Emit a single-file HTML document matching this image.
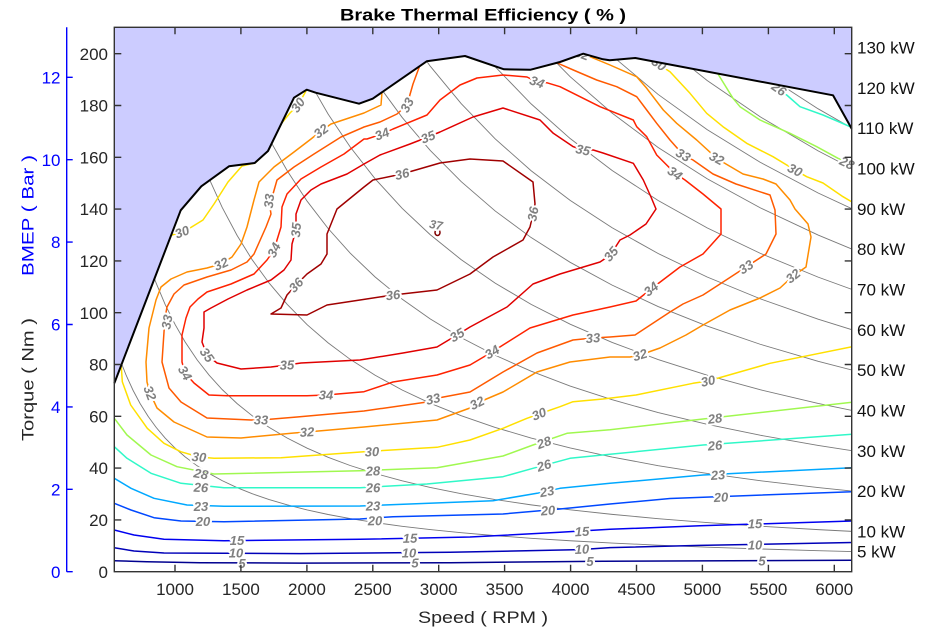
<!DOCTYPE html>
<html><head><meta charset="utf-8"><style>body{margin:0;background:#fff}svg{display:block}</style></head>
<body>
<svg width="925" height="634" viewBox="0 0 925 634" xmlns="http://www.w3.org/2000/svg" font-family="'Liberation Sans', Arial, sans-serif">
<defs>
<clipPath id="cb" clipPathUnits="userSpaceOnUse">
<polygon points="114.3,383.3 180.7,210.3 201.3,186.3 229,166.3 254.7,163 268,151 294,97.7 306.7,89.7 315.7,92.7 359,103.7 372.7,98.7 426.7,61.3 465,56 504,69.3 530.7,69.7 560,62 583.3,53.7 603,59.3 609.7,60.3 635.3,58 833,95.3 851.7,128.7 851.7,571.7 114.3,571.7"/>
</clipPath>
<clipPath id="pa" clipPathUnits="userSpaceOnUse"><rect x="114.3" y="27.3" width="737.4" height="544.4"/></clipPath>
</defs>
<rect width="925" height="634" fill="#fff"/>

<!-- power iso-lines -->
<g clip-path="url(#cb)" fill="none" stroke="#7a7a7a" stroke-width="0.9">
<path vector-effect="non-scaling-stroke" transform="translate(43.14,571.7) scale(1,-5)" d="M71,45.93 L77,42.35 L83,39.29 L90,36.24 L97,33.62 L105,31.06 L113,28.86 L122,26.73 L132,24.71 L142,22.97 L154,21.18 L166,19.65 L179,18.22 L194,16.81 L209,15.60 L226,14.43 L244,13.37 L264,12.35 L285,11.44 L307,10.62 L332,9.823 L359,9.085 L387,8.427 L418,7.802 L452,7.215 L488,6.683 L527,6.188 L569,5.732 L615,5.303 L664,4.912 L717,4.549 L775,4.208 L812,4.016"/>
<path vector-effect="non-scaling-stroke" transform="translate(43.14,571.7) scale(1,-10)" d="M71,45.93 L77,42.35 L83,39.29 L90,36.24 L97,33.62 L105,31.06 L113,28.86 L122,26.73 L132,24.71 L142,22.97 L154,21.18 L166,19.65 L179,18.22 L194,16.81 L209,15.60 L226,14.43 L244,13.37 L264,12.35 L285,11.44 L307,10.62 L332,9.823 L359,9.085 L387,8.427 L418,7.802 L452,7.215 L488,6.683 L527,6.188 L569,5.732 L615,5.303 L664,4.912 L717,4.549 L775,4.208 L812,4.016"/>
<path vector-effect="non-scaling-stroke" transform="translate(43.14,571.7) scale(1,-20)" d="M71,45.93 L77,42.35 L83,39.29 L90,36.24 L97,33.62 L105,31.06 L113,28.86 L122,26.73 L132,24.71 L142,22.97 L154,21.18 L166,19.65 L179,18.22 L194,16.81 L209,15.60 L226,14.43 L244,13.37 L264,12.35 L285,11.44 L307,10.62 L332,9.823 L359,9.085 L387,8.427 L418,7.802 L452,7.215 L488,6.683 L527,6.188 L569,5.732 L615,5.303 L664,4.912 L717,4.549 L775,4.208 L812,4.016"/>
<path vector-effect="non-scaling-stroke" transform="translate(43.14,571.7) scale(1,-30)" d="M71,45.93 L77,42.35 L83,39.29 L90,36.24 L97,33.62 L105,31.06 L113,28.86 L122,26.73 L132,24.71 L142,22.97 L154,21.18 L166,19.65 L179,18.22 L194,16.81 L209,15.60 L226,14.43 L244,13.37 L264,12.35 L285,11.44 L307,10.62 L332,9.823 L359,9.085 L387,8.427 L418,7.802 L452,7.215 L488,6.683 L527,6.188 L569,5.732 L615,5.303 L664,4.912 L717,4.549 L775,4.208 L812,4.016"/>
<path vector-effect="non-scaling-stroke" transform="translate(43.14,571.7) scale(1,-40)" d="M71,45.93 L77,42.35 L83,39.29 L90,36.24 L97,33.62 L105,31.06 L113,28.86 L122,26.73 L132,24.71 L142,22.97 L154,21.18 L166,19.65 L179,18.22 L194,16.81 L209,15.60 L226,14.43 L244,13.37 L264,12.35 L285,11.44 L307,10.62 L332,9.823 L359,9.085 L387,8.427 L418,7.802 L452,7.215 L488,6.683 L527,6.188 L569,5.732 L615,5.303 L664,4.912 L717,4.549 L775,4.208 L812,4.016"/>
<path vector-effect="non-scaling-stroke" transform="translate(43.14,571.7) scale(1,-50)" d="M71,45.93 L77,42.35 L83,39.29 L90,36.24 L97,33.62 L105,31.06 L113,28.86 L122,26.73 L132,24.71 L142,22.97 L154,21.18 L166,19.65 L179,18.22 L194,16.81 L209,15.60 L226,14.43 L244,13.37 L264,12.35 L285,11.44 L307,10.62 L332,9.823 L359,9.085 L387,8.427 L418,7.802 L452,7.215 L488,6.683 L527,6.188 L569,5.732 L615,5.303 L664,4.912 L717,4.549 L775,4.208 L812,4.016"/>
<path vector-effect="non-scaling-stroke" transform="translate(43.14,571.7) scale(1,-60)" d="M71,45.93 L77,42.35 L83,39.29 L90,36.24 L97,33.62 L105,31.06 L113,28.86 L122,26.73 L132,24.71 L142,22.97 L154,21.18 L166,19.65 L179,18.22 L194,16.81 L209,15.60 L226,14.43 L244,13.37 L264,12.35 L285,11.44 L307,10.62 L332,9.823 L359,9.085 L387,8.427 L418,7.802 L452,7.215 L488,6.683 L527,6.188 L569,5.732 L615,5.303 L664,4.912 L717,4.549 L775,4.208 L812,4.016"/>
<path vector-effect="non-scaling-stroke" transform="translate(43.14,571.7) scale(1,-70)" d="M71,45.93 L77,42.35 L83,39.29 L90,36.24 L97,33.62 L105,31.06 L113,28.86 L122,26.73 L132,24.71 L142,22.97 L154,21.18 L166,19.65 L179,18.22 L194,16.81 L209,15.60 L226,14.43 L244,13.37 L264,12.35 L285,11.44 L307,10.62 L332,9.823 L359,9.085 L387,8.427 L418,7.802 L452,7.215 L488,6.683 L527,6.188 L569,5.732 L615,5.303 L664,4.912 L717,4.549 L775,4.208 L812,4.016"/>
<path vector-effect="non-scaling-stroke" transform="translate(43.14,571.7) scale(1,-80)" d="M71,45.93 L77,42.35 L83,39.29 L90,36.24 L97,33.62 L105,31.06 L113,28.86 L122,26.73 L132,24.71 L142,22.97 L154,21.18 L166,19.65 L179,18.22 L194,16.81 L209,15.60 L226,14.43 L244,13.37 L264,12.35 L285,11.44 L307,10.62 L332,9.823 L359,9.085 L387,8.427 L418,7.802 L452,7.215 L488,6.683 L527,6.188 L569,5.732 L615,5.303 L664,4.912 L717,4.549 L775,4.208 L812,4.016"/>
<path vector-effect="non-scaling-stroke" transform="translate(43.14,571.7) scale(1,-90)" d="M71,45.93 L77,42.35 L83,39.29 L90,36.24 L97,33.62 L105,31.06 L113,28.86 L122,26.73 L132,24.71 L142,22.97 L154,21.18 L166,19.65 L179,18.22 L194,16.81 L209,15.60 L226,14.43 L244,13.37 L264,12.35 L285,11.44 L307,10.62 L332,9.823 L359,9.085 L387,8.427 L418,7.802 L452,7.215 L488,6.683 L527,6.188 L569,5.732 L615,5.303 L664,4.912 L717,4.549 L775,4.208 L812,4.016"/>
<path vector-effect="non-scaling-stroke" transform="translate(43.14,571.7) scale(1,-100)" d="M71,45.93 L77,42.35 L83,39.29 L90,36.24 L97,33.62 L105,31.06 L113,28.86 L122,26.73 L132,24.71 L142,22.97 L154,21.18 L166,19.65 L179,18.22 L194,16.81 L209,15.60 L226,14.43 L244,13.37 L264,12.35 L285,11.44 L307,10.62 L332,9.823 L359,9.085 L387,8.427 L418,7.802 L452,7.215 L488,6.683 L527,6.188 L569,5.732 L615,5.303 L664,4.912 L717,4.549 L775,4.208 L812,4.016"/>
<path vector-effect="non-scaling-stroke" transform="translate(43.14,571.7) scale(1,-110)" d="M71,45.93 L77,42.35 L83,39.29 L90,36.24 L97,33.62 L105,31.06 L113,28.86 L122,26.73 L132,24.71 L142,22.97 L154,21.18 L166,19.65 L179,18.22 L194,16.81 L209,15.60 L226,14.43 L244,13.37 L264,12.35 L285,11.44 L307,10.62 L332,9.823 L359,9.085 L387,8.427 L418,7.802 L452,7.215 L488,6.683 L527,6.188 L569,5.732 L615,5.303 L664,4.912 L717,4.549 L775,4.208 L812,4.016"/>
<path vector-effect="non-scaling-stroke" transform="translate(43.14,571.7) scale(1,-120)" d="M71,45.93 L77,42.35 L83,39.29 L90,36.24 L97,33.62 L105,31.06 L113,28.86 L122,26.73 L132,24.71 L142,22.97 L154,21.18 L166,19.65 L179,18.22 L194,16.81 L209,15.60 L226,14.43 L244,13.37 L264,12.35 L285,11.44 L307,10.62 L332,9.823 L359,9.085 L387,8.427 L418,7.802 L452,7.215 L488,6.683 L527,6.188 L569,5.732 L615,5.303 L664,4.912 L717,4.549 L775,4.208 L812,4.016"/>
<path vector-effect="non-scaling-stroke" transform="translate(43.14,571.7) scale(1,-130)" d="M71,45.93 L77,42.35 L83,39.29 L90,36.24 L97,33.62 L105,31.06 L113,28.86 L122,26.73 L132,24.71 L142,22.97 L154,21.18 L166,19.65 L179,18.22 L194,16.81 L209,15.60 L226,14.43 L244,13.37 L264,12.35 L285,11.44 L307,10.62 L332,9.823 L359,9.085 L387,8.427 L418,7.802 L452,7.215 L488,6.683 L527,6.188 L569,5.732 L615,5.303 L664,4.912 L717,4.549 L775,4.208 L812,4.016"/>
</g>

<!-- contours -->
<g clip-path="url(#pa)" fill="none" stroke-width="1.5" stroke-linejoin="round" stroke-linecap="round">
<polyline stroke="#00008f" points="114.3,560.7 147,561.8 200,562.7 300,563.1 450,562.7 603,561.2 852,560.3"/>
<polyline stroke="#0000b8" points="114.3,547.7 134,551 164,553 300,553.6 450,552.3 580,549.6 610,547.6 700,545.4 852,542.5"/>
<polyline stroke="#0000f0" points="114.3,530 134,535 164,539.3 224,540.7 360,539.3 470,537 560,532.3 610,529.3 700,525.8 852,521"/>
<polyline stroke="#0048ff" points="114.3,503.3 131,510 154,517.7 181,521 224,521.7 360,519 393,516.7 503,514 537,511 560,509 610,504 670,498.5 750,495.5 852,491.7"/>
<polyline stroke="#00a8ff" points="114.3,478.3 131,488.3 154,498.3 187,505 224,506.3 360,506 493,500.7 537,493.3 560,488.3 610,483.3 703,475 852,467.7"/>
<polyline stroke="#30f8c8" points="114.3,446.7 127,458.3 151,473.3 181,483.3 224,487.7 360,487.7 427,484 503,476.7 533,468.3 570,458.3 610,454.3 703,445 852,434.3"/>
<polyline stroke="#a0f850" points="114.3,418.3 127,435 151,455 177,466.7 214,474 360,470.7 437,467.7 503,456 533,445 567,433.3 610,429.7 703,419 852,402.3"/>
<polyline stroke="#ffe000" points="121.3,366.7 122.3,381.7 130.7,405 147.3,428.3 164,443.3 180.7,451.7 199,457 214,458.3 281,457.7 364,451.7 437,447.3 470,440 503,428.3 527,418.3 539,414 560,406.7 573,401.7 603,399 636,395 693,383.3 708,381 770,363.3 852,346.7"/>
<polyline stroke="#ffe000" points="172,235 182,232 190,228 203,220 214,204 228,182 242,166 255,163 268,151 281,124 290,113 298,105 306,91"/>
<polyline stroke="#ffe000" points="655,62 670,71.7 690,93.3 706.7,113.3 723,126.7 746.7,143.3 773,156.7 795,170 806.7,176.7 823,183 843,196.7 852,202"/>
<polyline stroke="#a0f850" points="718,74 733,98.3 740,106.7 760,120 790,133.3 816.7,146.7 838,158.3 852,164"/>
<polyline stroke="#30f8c8" points="781,92 786.7,95 800,106.7 823,115 852,127.5"/>
<polyline stroke="#ff8c00" points="382,92 381,105 364,113 331,124 321,131 311,139 294,152 274,167 259,182 254,200 247,227 241,244 232,257 221,264 207,268 187,272 171,279 161,287 156,300 149,328 146,362 147,382 150,393 157,408 174,422 207,437 241,438 294,433 307,432 364,427 437,420 470,408 477,403 503,392 537,372 570,362 610,357 630,357 640,355 660,348 686,335 703,325 730,310 760,298 780,288 793,276 806,267 811,237 808,224 795,209 790,200 776,184 763,179 743,174 726,164 716.7,158.3 696.7,140 676.7,123.3 663.3,110 646.7,88.3 636.7,76.7 610,65 590,56.7 585,55"/>
<polyline stroke="#ff5a00" points="420,65 413,84 407,105 397,114 380,122 364,127 341,137 314,154 294,167 277,180 273,194 269,201 271,214 266,227 254,254 247,262 231,270 207,277 184,285 174,294 167,307 165,318 164,332 162,362 169,388 181,402 207,418 251,420 261,420 297,417 364,411 427,402 433,399 470,392 503,372 537,353 573,340 593,338 610,337 635,335 670,312 683,304 703,295 720,284 746,267 766,254 776,234 775,210 770,195 736,184 713,174 693,160 683.3,155 670,140 656.7,123.3 646.7,110 636.7,96.7 616.7,86.7 596.7,80 573.3,70 555,62"/>
<polygon stroke="#ff2200" points="207,292 198,299 190,307 186,318 182,335 182,362 185,373 194,383 209,395 227,395.7 307,395.7 326,395 364,391.7 393,382 437,375 470,365 492,352 503,345 530,328 573,315 610,307 636,301 651,289 680,267 703,254 721,234 721,209 703,194 685,180 675,173.3 666.7,165 656.7,155 646.7,136.7 636.7,126.7 633.3,120 600,106.7 580,96.7 560,86.7 546.7,82.7 537,82 527,77 503,75 477,78 460,85 440,100 427,115 393,129 382,134 367,139 364,139 344,154 321,167 301,179 287,194 282,207 281,227 277,240 274,250 267,260 254,274 231,284"/>
<polygon stroke="#e00000" points="296,214 301,200 311,190 321,184 347,174 364,164 380,155 410,144 428,137 440,132 473,117 503,108 540,120 553.3,133.3 573.3,146.7 583,150 593.3,150 603,153 633.3,163.3 643.3,180 651,197 656,209 646,224 630,235 620,240 611,254 603,260 600,262 560,274 533,284 507,307 470,327 457,335 437,347 403,353 360,360 301,363 287,365 271,367 241,369 217,363 207,355 202,342 204,328 204,312 211,308 228,299 247,290 271,280 284,270 291,260 292,244 296,230"/>
<polygon stroke="#a00000" points="364,187 373,180 402,174 440,163 470,159 503,161 533,182 535,204 533,214 530,227 523,240 493,257 470,274 437,290 393,295 360,300 327,305 307,315 271,314 281,308 287,295 296,285 307,274 321,264 327,254 327,234 337,209"/>
<ellipse stroke="#800000" cx="437.5" cy="232.5" rx="2.5" ry="3"/>
</g>

<!-- contour labels -->
<g font-size="13" font-weight="bold" font-style="italic" fill="#808080" text-anchor="middle" stroke="#fff" stroke-width="4" stroke-linejoin="round" paint-order="stroke">
<text transform="translate(242,563.5)" dy="4.5">5</text>
<text transform="translate(415,563)" dy="4.5">5</text>
<text transform="translate(590,561.5)" dy="4.5">5</text>
<text transform="translate(762,560.8)" dy="4.5">5</text>
<text transform="translate(236,553)" dy="4.5">10</text>
<text transform="translate(409,553)" dy="4.5">10</text>
<text transform="translate(582,549.3) rotate(-2)" dy="4.5">10</text>
<text transform="translate(755,545) rotate(-1)" dy="4.5">10</text>
<text transform="translate(237,540.3)" dy="4.5">15</text>
<text transform="translate(410,538.3) rotate(-1)" dy="4.5">15</text>
<text transform="translate(582,531.5) rotate(-3)" dy="4.5">15</text>
<text transform="translate(755,523.7) rotate(-2)" dy="4.5">15</text>
<text transform="translate(203,521.7)" dy="4.5">20</text>
<text transform="translate(375,520.7) rotate(-1)" dy="4.5">20</text>
<text transform="translate(548,510.5) rotate(-4)" dy="4.5">20</text>
<text transform="translate(721,497.3) rotate(-3)" dy="4.5">20</text>
<text transform="translate(201,506.3)" dy="4.5">23</text>
<text transform="translate(373,506) rotate(-1)" dy="4.5">23</text>
<text transform="translate(547,491.5) rotate(-10)" dy="4.5">23</text>
<text transform="translate(718,475) rotate(-4)" dy="4.5">23</text>
<text transform="translate(201,487.5) rotate(3)" dy="4.5">26</text>
<text transform="translate(373,487.7) rotate(-1)" dy="4.5">26</text>
<text transform="translate(544,465.5) rotate(-17)" dy="4.5">26</text>
<text transform="translate(715,445.5) rotate(-5)" dy="4.5">26</text>
<text transform="translate(201,474) rotate(10)" dy="4.5">28</text>
<text transform="translate(373,471) rotate(-2)" dy="4.5">28</text>
<text transform="translate(544,442.5) rotate(-20)" dy="4.5">28</text>
<text transform="translate(715,418.5) rotate(-7)" dy="4.5">28</text>
<text transform="translate(199,457) rotate(5)" dy="4.5">30</text>
<text transform="translate(372,451.7) rotate(-2)" dy="4.5">30</text>
<text transform="translate(539,414) rotate(-22)" dy="4.5">30</text>
<text transform="translate(708,381) rotate(-12)" dy="4.5">30</text>
<text transform="translate(182,232) rotate(-21)" dy="4.5">30</text>
<text transform="translate(298,105) rotate(-55)" dy="4.5">30</text>
<text transform="translate(659,64) rotate(35)" dy="4.5">30</text>
<text transform="translate(795,170) rotate(27)" dy="4.5">30</text>
<text transform="translate(847,163) rotate(25)" dy="4.5">28</text>
<text transform="translate(779,89) rotate(35)" dy="4.5">26</text>
<text transform="translate(582,54) rotate(20)" dy="4.5">32</text>
<text transform="translate(321,131) rotate(-37)" dy="4.5">32</text>
<text transform="translate(221,264) rotate(-24)" dy="4.5">32</text>
<text transform="translate(150,393) rotate(69)" dy="4.5">32</text>
<text transform="translate(307,432) rotate(-3)" dy="4.5">32</text>
<text transform="translate(477,403) rotate(-26)" dy="4.5">32</text>
<text transform="translate(640,355) rotate(-17)" dy="4.5">32</text>
<text transform="translate(793,276) rotate(-39)" dy="4.5">32</text>
<text transform="translate(716.7,158.3) rotate(28)" dy="4.5">32</text>
<text transform="translate(407,105) rotate(-62)" dy="4.5">33</text>
<text transform="translate(269,201) rotate(-84)" dy="4.5">33</text>
<text transform="translate(167,322) rotate(-80)" dy="4.5">33</text>
<text transform="translate(261,420)" dy="4.5">33</text>
<text transform="translate(433,399) rotate(-13)" dy="4.5">33</text>
<text transform="translate(593,338) rotate(-5)" dy="4.5">33</text>
<text transform="translate(746,267) rotate(-33)" dy="4.5">33</text>
<text transform="translate(683.3,155) rotate(30)" dy="4.5">33</text>
<text transform="translate(382,134) rotate(-21)" dy="4.5">34</text>
<text transform="translate(537,82) rotate(20)" dy="4.5">34</text>
<text transform="translate(274,250) rotate(-63)" dy="4.5">34</text>
<text transform="translate(185,373) rotate(60)" dy="4.5">34</text>
<text transform="translate(326,395)" dy="4.5">34</text>
<text transform="translate(492,352) rotate(-31)" dy="4.5">34</text>
<text transform="translate(651,289) rotate(-38)" dy="4.5">34</text>
<text transform="translate(675,173.3) rotate(35)" dy="4.5">34</text>
<text transform="translate(428,137) rotate(-22)" dy="4.5">35</text>
<text transform="translate(583,150) rotate(12)" dy="4.5">35</text>
<text transform="translate(296,230) rotate(-85)" dy="4.5">35</text>
<text transform="translate(207,355) rotate(54)" dy="4.5">35</text>
<text transform="translate(287,365) rotate(-2)" dy="4.5">35</text>
<text transform="translate(457,335) rotate(-31)" dy="4.5">35</text>
<text transform="translate(611,254) rotate(-50)" dy="4.5">35</text>
<text transform="translate(402,174) rotate(-14)" dy="4.5">36</text>
<text transform="translate(533,214) rotate(-80)" dy="4.5">36</text>
<text transform="translate(296,285) rotate(-46)" dy="4.5">36</text>
<text transform="translate(393,295) rotate(-7)" dy="4.5">36</text>
<text transform="translate(436,225) rotate(10)" dy="4" font-size="12">37</text>
</g>

<!-- infeasible region above WOT -->
<polygon fill="#ccccff" points="114.3,27.3 851.7,27.3 851.7,128.7 833,95.3 635.3,58 609.7,60.3 603,59.3 583.3,53.7 560,62 530.7,69.7 504,69.3 465,56 426.7,61.3 372.7,98.7 359,103.7 315.7,92.7 306.7,89.7 294,97.7 268,151 254.7,163 229,166.3 201.3,186.3 180.7,210.3 114.3,383.3"/>
<polyline fill="none" stroke="#000" stroke-width="2" stroke-linejoin="round" points="114.3,383.3 180.7,210.3 201.3,186.3 229,166.3 254.7,163 268,151 294,97.7 306.7,89.7 315.7,92.7 359,103.7 372.7,98.7 426.7,61.3 465,56 504,69.3 530.7,69.7 560,62 583.3,53.7 603,59.3 609.7,60.3 635.3,58 833,95.3 851.7,128.7"/>

<!-- axes box and ticks -->
<rect x="114.3" y="27.3" width="737.4" height="544.4" fill="none" stroke="#333" stroke-width="1.4"/>
<g stroke="#333" stroke-width="1.4">
<path d="M175,571.7v-7M240.9,571.7v-7M306.9,571.7v-7M372.8,571.7v-7M438.7,571.7v-7M504.6,571.7v-7M570.6,571.7v-7M636.5,571.7v-7M702.4,571.7v-7M768.4,571.7v-7M834.3,571.7v-7"/>
<path d="M175,27.3v7M240.9,27.3v7M306.9,27.3v7M372.8,27.3v7M438.7,27.3v7M504.6,27.3v7M570.6,27.3v7M636.5,27.3v7M702.4,27.3v7M768.4,27.3v7M834.3,27.3v7"/>
<path d="M114.3,519.9h7M114.3,468.1h7M114.3,416.3h7M114.3,364.5h7M114.3,312.7h7M114.3,260.9h7M114.3,209.1h7M114.3,157.3h7M114.3,105.5h7M114.3,53.7h7"/>
<path d="M851.7,519.9h-7M851.7,468.1h-7M851.7,416.3h-7M851.7,364.5h-7M851.7,312.7h-7M851.7,260.9h-7M851.7,209.1h-7M851.7,157.3h-7M851.7,105.5h-7M851.7,53.7h-7"/>
</g>

<!-- BMEP axis -->
<g stroke="#0000ff" stroke-width="1.4">
<path d="M66.7,27.3V571.7"/>
<path d="M66.7,571.7h6M66.7,489.3h6M66.7,406.9h6M66.7,324.5h6M66.7,242.1h6M66.7,159.7h6M66.7,77.3h6"/>
</g>
<g font-size="17" fill="#0000ff" text-anchor="end">
<text x="60.5" y="578">0</text>
<text x="60.5" y="495.5">2</text>
<text x="60.5" y="413">4</text>
<text x="60.5" y="330.5">6</text>
<text x="60.5" y="248">8</text>
<text x="60.5" y="166">10</text>
<text x="60.5" y="83.5">12</text>
</g>

<!-- torque tick labels -->
<g font-size="17" fill="#262626" text-anchor="end">
<text x="108" y="578">0</text>
<text x="108" y="526">20</text>
<text x="108" y="474">40</text>
<text x="108" y="422.5">60</text>
<text x="108" y="370.5">80</text>
<text x="108" y="319">100</text>
<text x="108" y="267">120</text>
<text x="108" y="215">140</text>
<text x="108" y="163.5">160</text>
<text x="108" y="111.5">180</text>
<text x="108" y="60">200</text>
</g>

<!-- speed tick labels -->
<g font-size="17" fill="#262626" text-anchor="middle">
<text x="175" y="595">1000</text>
<text x="240.9" y="595">1500</text>
<text x="306.9" y="595">2000</text>
<text x="372.8" y="595">2500</text>
<text x="438.7" y="595">3000</text>
<text x="504.6" y="595">3500</text>
<text x="570.6" y="595">4000</text>
<text x="636.5" y="595">4500</text>
<text x="702.4" y="595">5000</text>
<text x="768.4" y="595">5500</text>
<text x="834.3" y="595">6000</text>
</g>

<!-- power labels -->
<g font-size="17" fill="#111">
<text x="857" y="53.5">130 kW</text>
<text x="857" y="94">120 kW</text>
<text x="857" y="134">110 kW</text>
<text x="857" y="174.5">100 kW</text>
<text x="857" y="215">90 kW</text>
<text x="857" y="255">80 kW</text>
<text x="857" y="295.5">70 kW</text>
<text x="857" y="336">60 kW</text>
<text x="857" y="376">50 kW</text>
<text x="857" y="416.5">40 kW</text>
<text x="857" y="457">30 kW</text>
<text x="857" y="497">20 kW</text>
<text x="857" y="537.5">10 kW</text>
<text x="857" y="557.5">5 kW</text>
</g>

<!-- titles -->
<text x="483" y="20.5" font-size="17" font-weight="bold" fill="#000" text-anchor="middle" textLength="286" lengthAdjust="spacingAndGlyphs">Brake Thermal Efficiency ( % )</text>
<text x="483" y="623" font-size="17" fill="#262626" text-anchor="middle" textLength="130" lengthAdjust="spacingAndGlyphs">Speed ( RPM )</text>
<text transform="translate(33.5,379.5) rotate(-90)" font-size="17" fill="#262626" text-anchor="middle" textLength="123" lengthAdjust="spacingAndGlyphs">Torque ( Nm )</text>
<text transform="translate(33.5,215.5) rotate(-90)" font-size="17" fill="#0000ff" text-anchor="middle" textLength="121" lengthAdjust="spacingAndGlyphs">BMEP ( Bar )</text>
</svg>
</body></html>
